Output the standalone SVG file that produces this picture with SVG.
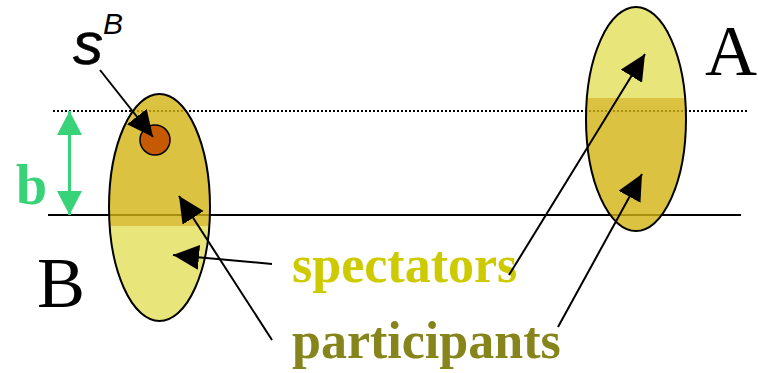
<svg xmlns="http://www.w3.org/2000/svg" width="758" height="373" viewBox="0 0 758 373">
<style>
.ln{stroke:#000;stroke-width:2;fill:none}
.con{stroke:#000;stroke-width:2;fill:none;marker-end:url(#ah)}
.dark{fill:#d2b310;fill-opacity:0.8}
.light{fill:#e2e059;fill-opacity:0.8}
.outl{fill:none;stroke:#000;stroke-width:2}
.big{font-family:"Liberation Serif",serif;font-size:72px;fill:#000}
.lbl{font-family:"Liberation Serif",serif;font-weight:bold;font-size:52px}
</style>
<defs>
<marker id="ah" markerUnits="userSpaceOnUse" markerWidth="28" markerHeight="26" refX="26" refY="12.5" orient="auto">
<path d="M0,0 L26,12.5 L0,25 z" fill="#000"/>
</marker>
<marker id="ga" markerUnits="userSpaceOnUse" markerWidth="26" markerHeight="26" refX="24" refY="12.5" orient="auto-start-reverse">
<path d="M0,0 L24,12.5 L0,25 z" fill="#38d278"/>
</marker>
<clipPath id="cbTop"><rect x="0" y="0" width="758" height="226"/></clipPath>
<clipPath id="cbBot"><rect x="0" y="226" width="758" height="150"/></clipPath>
<clipPath id="caTop"><rect x="0" y="0" width="758" height="98"/></clipPath>
<clipPath id="caBot"><rect x="0" y="98" width="758" height="280"/></clipPath>
</defs>
<g id="lines">
<line x1="53" y1="111" x2="748" y2="111" stroke="#000" stroke-width="2" stroke-dasharray="2,2"/>
<line class="ln" x1="48" y1="215" x2="741" y2="215"/>
</g>
<g id="nodeB">
<ellipse class="dark" cx="159.5" cy="207.5" rx="50.5" ry="113.5" clip-path="url(#cbTop)"/>
<ellipse class="light" cx="159.5" cy="207.5" rx="50.5" ry="113.5" clip-path="url(#cbBot)"/>
<ellipse class="outl" cx="159.5" cy="207.5" rx="50.5" ry="113.5"/>
<text class="big" x="37" y="307">B</text>
</g>
<g id="nodeA">
<ellipse class="light" cx="636" cy="119" rx="50" ry="112" clip-path="url(#caTop)"/>
<ellipse class="dark" cx="636" cy="119" rx="50" ry="112" clip-path="url(#caBot)"/>
<ellipse class="outl" cx="636" cy="119" rx="50" ry="112"/>
<text class="big" x="705" y="75">A</text>
</g>
<g id="sB">
<circle cx="155" cy="140" r="15" fill="#c65a03" stroke="#000" stroke-width="1.5"/>
<text x="73" y="64" font-family="Liberation Sans,sans-serif" font-style="italic" font-size="60" stroke="#000" stroke-width="0.6">s</text>
<text x="103" y="34" font-family="Liberation Sans,sans-serif" font-style="italic" font-size="30">B</text>
</g>
<g id="bmark">
<line x1="69.5" y1="111" x2="69.5" y2="215" stroke="#38d278" stroke-width="3" marker-start="url(#ga)" marker-end="url(#ga)"/>
<text x="16" y="204" font-family="Liberation Serif,serif" font-weight="bold" font-size="56" fill="#38d278">b</text>
</g>
<g id="labels">
<text class="lbl" x="292" y="282" fill="#cdcb00">spectators</text>
<text class="lbl" x="292" y="358" fill="#86851b">participants</text>
</g>
<g id="connectors">
<line class="con" x1="100" y1="70" x2="153" y2="137"/>
<line class="con" x1="272" y1="264" x2="173" y2="255"/>
<line class="con" x1="272" y1="340" x2="179" y2="196"/>
<line class="con" x1="509" y1="275" x2="645" y2="54"/>
<line class="con" x1="558" y1="327" x2="642" y2="174"/>
</g>
</svg>
